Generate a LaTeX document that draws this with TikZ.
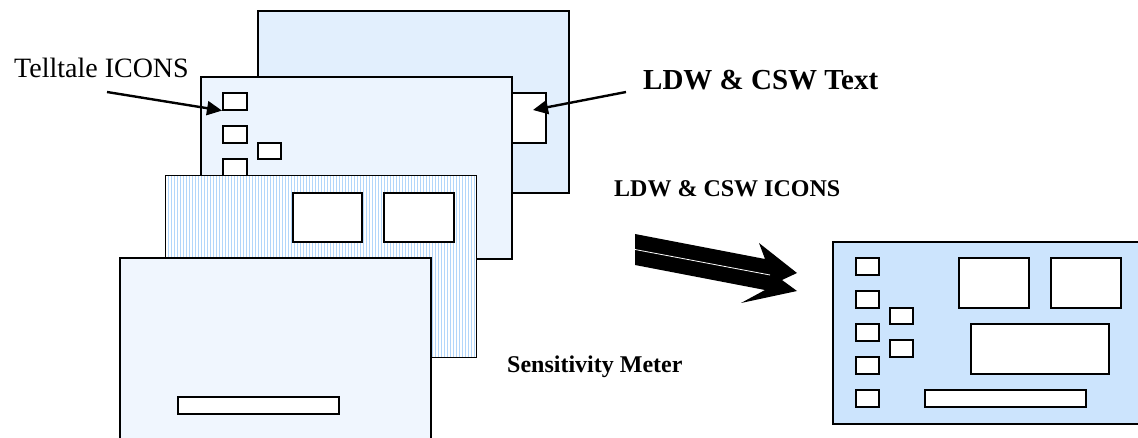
\documentclass[tikz,border=0pt]{standalone}
\usepackage{fontspec}
\setmainfont{Liberation Serif}
\usetikzlibrary{arrows.meta,patterns.meta}
\definecolor{backblue}{RGB}{226,239,253}
\definecolor{tellblue}{RGB}{236,244,254}
\definecolor{stripeblue}{RGB}{178,214,250}
\definecolor{frontblue}{RGB}{240,246,254}
\definecolor{dashblue}{RGB}{204,228,253}
\tikzset{
  panel/.style={draw,line width=1.6pt,anchor=north west,inner sep=0pt,
    minimum width=311pt,minimum height=182pt},
  icon/.style 2 args={draw,fill=white,line width=1.6pt,anchor=north west,
    inner sep=0pt,minimum width=#1pt,minimum height=#2pt},
  pointer/.style={line width=2.4pt,-{Triangle[length=15pt,width=14pt]}},
  label/.style={anchor=base west,inner sep=0pt},
}
\begin{document}
\begin{tikzpicture}[x=1pt,y=-1pt,line join=miter]
  \useasboundingbox (0,0) rectangle (1138,438);
  % back layer with the text box
  \node[panel,fill=backblue] (back) at (257,10) {};
  \node[icon={55}{50}] (txtbox) at (490,92) {};
  % telltale layer
  \node[panel,fill=tellblue] (tell) at (200,76) {};
  \node[icon={24}{17}] (tt1) at (222,92) {};
  \node[icon={24}{17}] (tt2) at (222,125) {};
  \node[icon={23}{16}] (tt3) at (257,142) {};
  \node[icon={24}{17}] (tt4) at (222,158) {};
  % icon layer
  \node[panel,preaction={fill=white},pattern={Lines[angle=90,distance=3pt,line width=1pt]},
    pattern color=stripeblue] (icons) at (165,175) {};
  \node[icon={69}{49}] (ic1) at (292,192) {};
  \node[icon={70}{49}] (ic2) at (383,192) {};
  % front layer with the meter
  \node[panel,fill=frontblue] (front) at (119,257) {};
  \node[icon={161}{17}] (bar) at (177,396) {};
  % combined display
  \node[panel,fill=dashblue] (dash) at (832,241) {};
  \foreach \y [count=\i] in {257,290,323,356,389}
    \node[icon={23}{17}] (d\i) at (855,\y) {};
  \node[icon={23}{16}] (e1) at (889,307) {};
  \node[icon={23}{17}] (e2) at (889,339) {};
  \node[icon={70}{50}] (f1) at (958,257) {};
  \node[icon={70}{50}] (f2) at (1050,257) {};
  \node[icon={138}{50}] (f3) at (970,323) {};
  \node[icon={161}{17}] (f4) at (924,389) {};
  % labels
  \node[label,font=\fontsize{28}{32}\selectfont] (telltale) at (14,78) {Telltale ICONS};
  \node[label,font=\fontsize{29}{33}\selectfont\bfseries] (ldwtext) at (643,90) {LDW \& CSW Text};
  \node[label,font=\fontsize{24}{28}\selectfont\bfseries] (ldwicons) at (614,197) {LDW \& CSW ICONS};
  \node[label,font=\fontsize{24}{28}\selectfont\bfseries] (sens) at (507,372) {Sensitivity Meter};
  % pointers
  \coordinate (ttail) at (107,92);
  \coordinate (ltail) at (626,92);
  \coordinate (ltip) at (533,110);
  \draw[pointer] (ttail) -- (tt1.south west);
  \draw[pointer] (ltail) -- (ltip);
  % big arrow
  \fill (635,234) -- (765,259) -- (759,243) -- (797,273) -- (782,280) -- (797,291)
    -- (741,303) -- (765,290) -- (635,265) -- cycle;
  \draw[white,line width=0.8pt] (635,249.5) -- (770,275);
\end{tikzpicture}
\end{document}
